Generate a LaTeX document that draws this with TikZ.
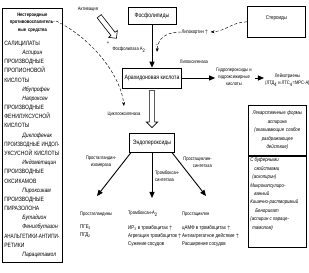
\documentclass[tikz,border=0pt]{standalone}
\usepackage{fontspec}
\usepackage{graphicx}
\setmainfont{Liberation Sans}[FakeStretch=0.82]
\usetikzlibrary{arrows.meta,shapes.arrows,calc}
\setlength{\parindent}{0pt}

\newcommand{\lblfs}{\fontsize{5}{7}\selectfont}
\newcommand{\boxfs}{\fontsize{6.3}{7.5}\selectfont}
\newcommand{\upmark}{\,$\uparrow$}
\newcommand{\fitline}[1]{\resizebox{55pt}{\height}{#1}}

\tikzset{
  lbl/.style={inner sep=0pt, font=\lblfs, align=center},
  blk/.style={draw, line width=0.7pt, inner sep=2pt},
  solidarr/.style={line width=0.9pt, -{Triangle[length=6pt,width=5pt]}},
  dasharr/.style={densely dashed, line width=0.45pt, -{Stealth[length=4pt,width=3pt]}},
  hollowarr/.style={single arrow, draw, line width=0.6pt, inner sep=2.3pt,
    single arrow head extend=3pt, minimum height=#1},
}

\begin{document}
\begin{tikzpicture}[x=1pt,y=-1pt]
  \useasboundingbox (0,0) rectangle (309,273);

  % NSAIDs
  \node[blk, anchor=north west, text width=56pt, minimum height=254pt,
        font=\fontsize{6.2}{9.17}\selectfont] (nsaid) at (2,8) {%
    {\centering\bfseries\fontsize{5}{7.4}\selectfont
      Нестероидные\\противовоспалитель-\\ные средства\par}
    \vspace{5pt}
    САЛИЦИЛАТЫ\\
    \hspace*{18pt}\textit{Аспирин}\\
    ПРОИЗВОДНЫЕ\\
    ПРОПИОНОВОЙ\\
    КИСЛОТЫ\\
    \hspace*{18pt}\textit{Ибупрофен}\\
    \hspace*{18pt}\textit{Напроксен}\\
    ПРОИЗВОДНЫЕ\\
    ФЕНИЛУКСУСНОЙ\\
    КИСЛОТЫ\\
    \hspace*{18pt}\textit{Диклофенак}\\
    \fitline{ПРОИЗВОДНЫЕ ИНДОЛ-}\\
    \fitline{УКСУСНОЙ КИСЛОТЫ}\\
    \hspace*{18pt}\textit{Индометацин}\\
    ПРОИЗВОДНЫЕ\\
    ОКСИКАМОВ\\
    \hspace*{18pt}\textit{Пироксикам}\\
    ПРОИЗВОДНЫЕ\\
    ПИРАЗОЛОНА\\
    \hspace*{18pt}\textit{Бутадион}\\
    \hspace*{18pt}\textit{Фенилбутазон}\\
    \fitline{АНАЛЬГЕТИКИ-АНТИПИ-}\\
    РЕТИКИ\\
    \hspace*{18pt}\textit{Парацетамол}};

  % top of the cascade
  \node[blk, minimum width=48pt, minimum height=17pt, font=\boxfs] (phos) at (152,16) {Фосфолипиды};
  \node[blk, anchor=north west, minimum width=58pt, minimum height=31pt,
        text depth=9pt, font=\fontsize{5.5}{6.5}\selectfont] (ster) at (247,6) {Стероиды};
  \node[lbl] (act) at (88,9) {Активация};
  \node[hollowarr=28pt, rotate=-52, anchor=tail] (actarr) at (99,16) {};
  \node[lbl] (plus) at (108,43) {+};
  \node[lbl] (pla) at (129,50) {Фосфолипаза А\textsubscript{2}};
  \node[lbl] (minus) at (157,46) {--};
  \node[lbl] (lipo) at (195,32) {Липокортин\upmark};
  \node[blk, minimum width=58pt, minimum height=20pt, font=\boxfs] (aa) at (152,78) {Арахидоновая кислота};
  \node[lbl] (lox) at (194,62) {Липоксигеназа};
  \node[lbl] (hydro) at (234,77) {Гидропероксиды и\\гидроксижирные\\кислоты};
  \node[lbl, anchor=north west] (leuk) at (265,74) {Лейкотриены\\(ЛТД\textsubscript{4} и ЛТС\textsubscript{4}=МРС-А)};

  % endoperoxides
  \node[lbl] (cox) at (124,114) {Циклооксигеназа};
  \node[blk, minimum width=45pt, minimum height=19pt, font=\boxfs] (endo) at (152,142.5) {Эндопероксиды};
  \node[hollowarr=37pt, rotate=-90, anchor=tail] (aaarr) at ($(aa.south)+(0,2)$) {};
  \node[lbl] (pgiso) at (101,162) {Простагландин-\\изомераза};
  \node[lbl, anchor=west, align=left] (txsyn) at (155,176) {Тромбоксан-\\синтетаза};
  \node[lbl, anchor=east, align=right] (pcsyn) at (212,162) {Простациклин-\\синтетаза};

  % products
  \node[lbl, anchor=west] (pg) at (80,214) {Простагландины};
  \node[lbl, anchor=west] (tx) at (128,214) {Тромбоксан-А\textsubscript{2}};
  \node[lbl, anchor=west] (pc) at (182,214) {Простациклин};
  \node[lbl, anchor=north west, align=left, font=\fontsize{5.4}{8}\selectfont] (pglist) at (80,225) {ПГЕ\textsubscript{2}\\ПГД\textsubscript{2}};
  \node[lbl, anchor=north west, align=left, font=\fontsize{5.4}{8}\selectfont] (txlist) at (128,225) {ИР\textsubscript{3} в тромбоцитах\upmark\\Агрегация тромбоцитов\upmark\\Сужение сосудов};
  \node[lbl, anchor=north west, align=left, font=\fontsize{5.4}{8}\selectfont] (pclist) at (182,225) {цАМФ в тромбоцитах\upmark\\Антиагрегатное действие\upmark\\Расширение сосудов};

  % aspirin forms
  \node[blk, anchor=north west, minimum width=58pt, minimum height=50pt, text width=54pt,
        align=center, font=\fontsize{5.3}{8.5}\selectfont\itshape] (formtop) at (248,105)
        {Лекарственные формы\\аспирина\\(оказывающие слабое\\раздражающее\\действие)};
  \node[blk, anchor=north, minimum width=58pt, font=\fontsize{5.3}{8.4}\selectfont\itshape] (formbot) at (formtop.south)
        {\parbox[t][87pt][t]{54pt}{\raggedright
          С буферными\\
          \hspace*{4pt}свойствами\\
          \hspace*{2pt}(аскопирин)\\
          Микрокапсулиро-\\
          \hspace*{4pt}ванный\\
          Кишечно-растворимый\\
          \hspace*{5pt}Бенорилат\\
          (аспирин с параце-\\
          \hspace*{2pt}тамолом)}};

  \coordinate (coxstart) at (56,21);
  \coordinate (coxend) at (124,106);
  \coordinate (lipoend) at (157,52);
  \coordinate (pgtip) at (97,196);
  \coordinate (txtip) at (152,198);
  \coordinate (pctip) at (206,196);

  % connectors
  \draw[solidarr] (phos.south) -- (aa.north);
  \draw[solidarr, shorten >=1pt] (aa.east) -- (aa.east -| hydro.west);
  \draw[solidarr, shorten <=3pt, shorten >=1pt] (hydro.east |- aa.east) -- (leuk.west |- aa.east);
  \draw[solidarr] ($(endo.south west)+(2,0)$) -- (pgtip);
  \draw[solidarr] (endo.south) -- (txtip);
  \draw[solidarr] ($(endo.south east)+(-3,0)$) -- (pctip);
  \draw[dasharr] (coxstart) .. controls (88,36) and (120,72) .. (coxend);
  \draw[dasharr] (lipo.west) .. controls (166,32) and (158,38) .. (lipoend);
  \draw[dasharr] (ster.west) .. controls (232,22) and (226,31) .. ($(lipo.east)+(2,0)$);
\end{tikzpicture}
\end{document}
